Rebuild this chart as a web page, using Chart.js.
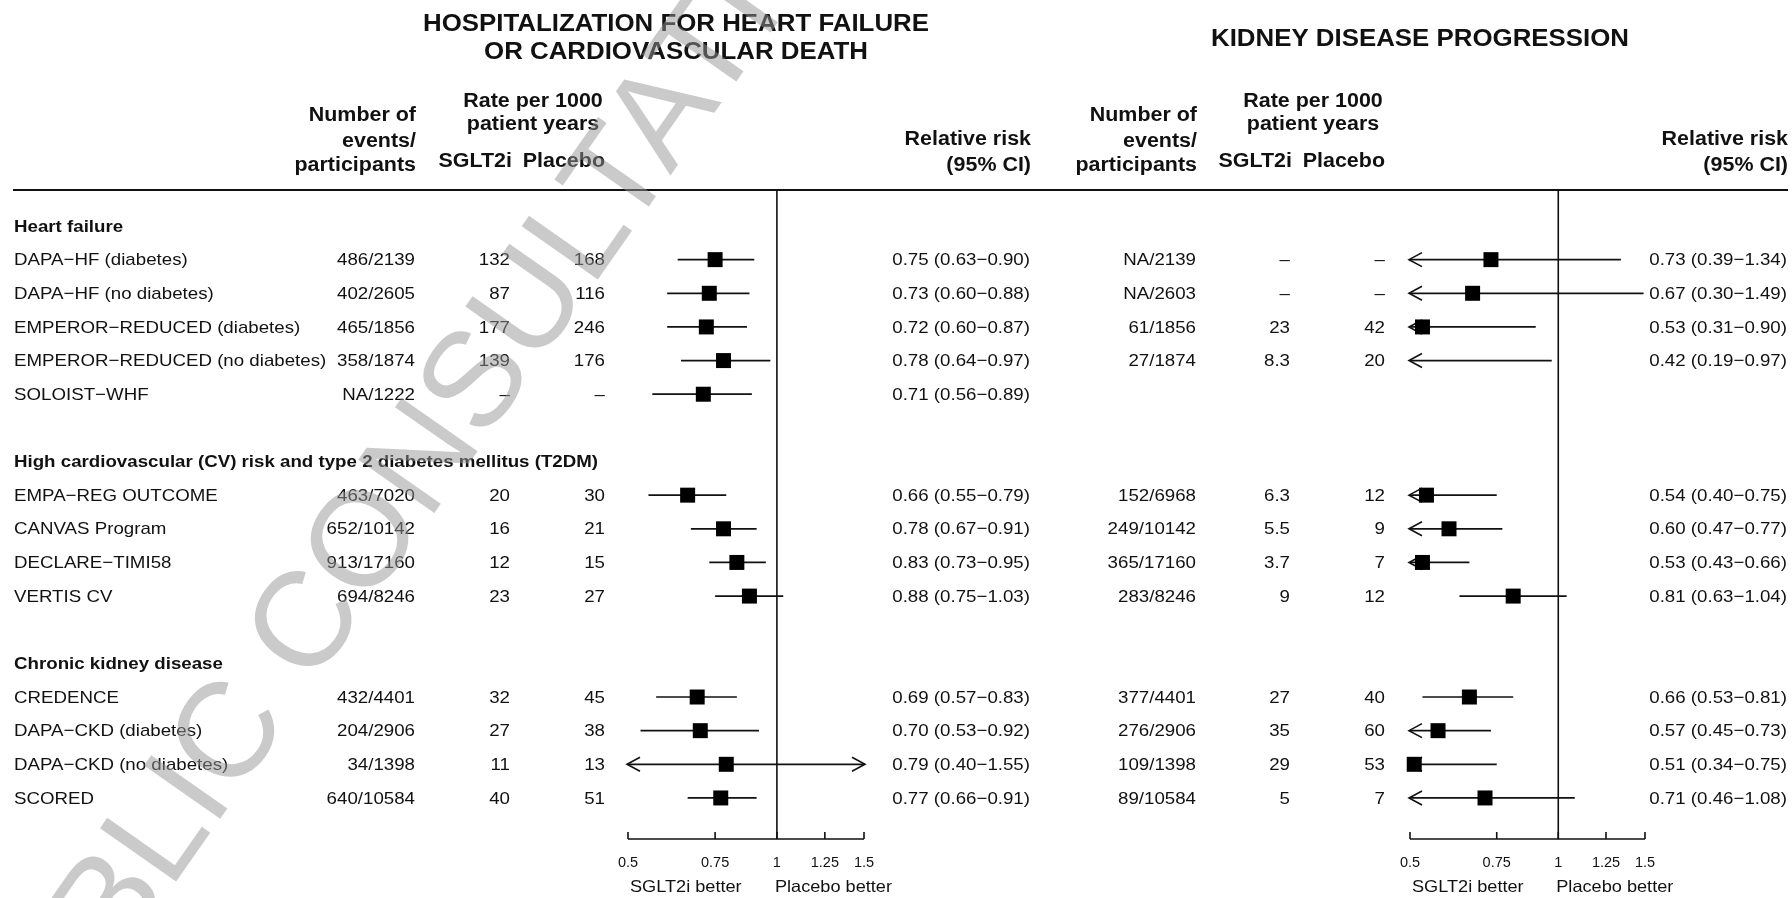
<!DOCTYPE html>
<html>
<head>
<meta charset="utf-8">
<title>SGLT2 inhibitors: heart failure and kidney outcomes</title>
<script src="https://cdn.jsdelivr.net/npm/chart.js@4.4.1/dist/chart.umd.min.js"></script>
<style>
  html, body { margin: 0; padding: 0; background: #ffffff; }
  #wrap { position: relative; width: 1792px; height: 898px; overflow: hidden; background: #ffffff; }
  #wrap canvas { position: absolute; left: 0; top: 0; }
</style>
</head>
<body>
<div id="wrap">
  <canvas id="hf" width="1792" height="898"></canvas>
  <canvas id="kd" width="1792" height="898"></canvas>
</div>
<script>
// ---- Study rows ----
const groups = [
  'Heart failure',
  'High cardiovascular (CV) risk and type 2 diabetes mellitus (T2DM)',
  'Chronic kidney disease'
];
const trials = [
  'DAPA−HF (diabetes)', 'DAPA−HF (no diabetes)', 'EMPEROR−REDUCED (diabetes)',
  'EMPEROR−REDUCED (no diabetes)', 'SOLOIST−WHF',
  'EMPA−REG OUTCOME', 'CANVAS Program', 'DECLARE−TIMI58', 'VERTIS CV',
  'CREDENCE', 'DAPA−CKD (diabetes)', 'DAPA−CKD (no diabetes)', 'SCORED'
];
const trialGroup = [0, 0, 0, 0, 0, 1, 1, 1, 1, 2, 2, 2, 2];

// ---- Hospitalization for heart failure or cardiovascular death ----
const hfEvents  = ['486/2139', '402/2605', '465/1856', '358/1874', 'NA/1222',
                   '463/7020', '652/10142', '913/17160', '694/8246',
                   '432/4401', '204/2906', '34/1398', '640/10584'];
const hfSglt    = ['132', '87', '177', '139', '–', '20', '16', '12', '23', '32', '27', '11', '40'];
const hfPlacebo = ['168', '116', '246', '176', '–', '30', '21', '15', '27', '45', '38', '13', '51'];
const hfRR      = [0.75, 0.73, 0.72, 0.78, 0.71, 0.66, 0.78, 0.83, 0.88, 0.69, 0.70, 0.79, 0.77];
const hfLo      = [0.63, 0.60, 0.60, 0.64, 0.56, 0.55, 0.67, 0.73, 0.75, 0.57, 0.53, 0.40, 0.66];
const hfHi      = [0.90, 0.88, 0.87, 0.97, 0.89, 0.79, 0.91, 0.95, 1.03, 0.83, 0.92, 1.55, 0.91];

// ---- Kidney disease progression (no kidney outcome for SOLOIST-WHF) ----
const kdEvents  = ['NA/2139', 'NA/2603', '61/1856', '27/1874', null,
                   '152/6968', '249/10142', '365/17160', '283/8246',
                   '377/4401', '276/2906', '109/1398', '89/10584'];
const kdSglt    = ['–', '–', '23', '8.3', null, '6.3', '5.5', '3.7', '9', '27', '35', '29', '5'];
const kdPlacebo = ['–', '–', '42', '20', null, '12', '9', '7', '12', '40', '60', '53', '7'];
const kdRR      = [0.73, 0.67, 0.53, 0.42, null, 0.54, 0.60, 0.53, 0.81, 0.66, 0.57, 0.51, 0.71];
const kdLo      = [0.39, 0.30, 0.31, 0.19, null, 0.40, 0.47, 0.43, 0.63, 0.53, 0.45, 0.34, 0.46];
const kdHi      = [1.34, 1.49, 0.90, 0.97, null, 0.75, 0.77, 0.66, 1.04, 0.81, 0.73, 0.75, 1.08];

// ---- Relative risk axis ----
const xTicks = [0.5, 0.75, 1, 1.25, 1.5];
const xTickLabels = ['0.5', '0.75', '1', '1.25', '1.5'];
const X_MIN = 0.5, X_MAX = 1.5;

// Row index of each group header and each trial (blank row between groups)
const groupRow = [];
const trialRow = [];
(function () {
  let r = 0;
  groups.forEach((g, gi) => {
    if (gi > 0) r++;
    groupRow[gi] = r++;
    trialGroup.forEach((tg, ti) => { if (tg === gi) trialRow[ti] = r++; });
  });
})();
const Y_MIN = -1.07, Y_MAX = 18.22;

const FONT = '"Liberation Sans", Arial, Helvetica, sans-serif';
const INK = '#111111';
const SX = 1.1; // slightly wide lettering used throughout the figure

function txt(ctx, s, x, y, align, font, color) {
  if (s == null) return;
  ctx.save();
  ctx.font = font;
  ctx.fillStyle = color || INK;
  ctx.textAlign = align;
  ctx.textBaseline = 'middle';
  ctx.translate(x, y);
  ctx.scale(SX, 1);
  ctx.fillText(s, 0, 0);
  ctx.restore();
}

const fmt = v => v.toFixed(2);

const panels = [
  {
    id: 'hf', left: 628, right: 864,
    title: ['HOSPITALIZATION FOR HEART FAILURE', 'OR CARDIOVASCULAR DEATH'],
    titleX: 676, titleY: [25, 53],
    col: { events: 415, sglt: 510, plac: 605, rr: 1030, rate: 533 },
    events: hfEvents, sglt: hfSglt, plac: hfPlacebo, rr: hfRR, lo: hfLo, hi: hfHi,
    rowLabels: true, watermark: true, rule: true
  },
  {
    id: 'kd', left: 1410, right: 1645,
    title: ['KIDNEY DISEASE PROGRESSION'],
    titleX: 1420, titleY: [40],
    col: { events: 1196, sglt: 1290, plac: 1385, rr: 1787, rate: 1313 },
    events: kdEvents, sglt: kdSglt, plac: kdPlacebo, rr: kdRR, lo: kdLo, hi: kdHi,
    rowLabels: false, watermark: false, rule: false
  }
];

function buildDatasets(P) {
  const ds = [];
  // line of no effect
  ds.push({
    type: 'line', data: [{ x: 1, y: Y_MIN }, { x: 1, y: Y_MAX }],
    borderColor: INK, borderWidth: 1.6, pointRadius: 0, clip: false, order: 3
  });
  // confidence intervals, cut at the axis limits
  P.rr.forEach((v, i) => {
    if (v == null) return;
    ds.push({
      type: 'line',
      data: [{ x: Math.max(P.lo[i], X_MIN), y: trialRow[i] }, { x: Math.min(P.hi[i], X_MAX), y: trialRow[i] }],
      borderColor: INK, borderWidth: 1.7, pointRadius: 0, clip: false, order: 2
    });
  });
  // point estimates
  ds.push({
    type: 'scatter',
    data: P.rr.map((v, i) => (v != null && v >= X_MIN && v <= X_MAX) ? { x: v, y: trialRow[i] } : null)
              .filter(p => p),
    pointStyle: 'rect', pointRadius: 10.6, pointHoverRadius: 10.6,
    backgroundColor: '#000000', borderWidth: 0, clip: false, order: 1
  });
  return ds;
}

function panelPlugin(P) {
  return {
    id: 'panel_' + P.id,
    beforeDatasetsDraw(chart) {
      const ctx = chart.ctx, xs = chart.scales.x, ys = chart.scales.y;
      ctx.save();
      ctx.strokeStyle = INK; ctx.lineWidth = 1.6; ctx.lineJoin = 'miter';
      P.rr.forEach((v, i) => {
        if (v == null) return;
        const y = ys.getPixelForValue(trialRow[i]);
        if (P.lo[i] < X_MIN) {
          const t = xs.getPixelForValue(X_MIN) - 1;
          ctx.beginPath(); ctx.moveTo(t + 13, y - 7); ctx.lineTo(t, y); ctx.lineTo(t + 13, y + 7); ctx.stroke();
        }
        if (P.hi[i] > X_MAX) {
          const t = xs.getPixelForValue(X_MAX) + 1;
          ctx.beginPath(); ctx.moveTo(t - 13, y - 7); ctx.lineTo(t, y); ctx.lineTo(t - 13, y + 7); ctx.stroke();
        }
      });
      ctx.restore();
    },
    afterDraw(chart) {
      const ctx = chart.ctx, xs = chart.scales.x, ys = chart.scales.y;
      const area = chart.chartArea;
      const body = '17px ' + FONT, bold = 'bold 17px ' + FONT, head = 'bold 19.5px ' + FONT;

      // titles
      P.title.forEach((t, k) => txt(ctx, t, P.titleX, P.titleY[k], 'center', 'bold 23.5px ' + FONT));

      // column headings
      const c = P.col;
      txt(ctx, 'Number of', c.events + 1, 116, 'right', head);
      txt(ctx, 'events/', c.events + 1, 142, 'right', head);
      txt(ctx, 'participants', c.events + 1, 166, 'right', head);
      txt(ctx, 'Rate per 1000', c.rate, 102, 'center', head);
      txt(ctx, 'patient years', c.rate, 125, 'center', head);
      txt(ctx, 'SGLT2i', c.sglt + 2, 162, 'right', head);
      txt(ctx, 'Placebo', c.plac, 162, 'right', head);
      txt(ctx, 'Relative risk', c.rr + 1, 140, 'right', head);
      txt(ctx, '(95% CI)', c.rr + 1, 166, 'right', head);

      // rule under the headings
      if (P.rule) {
        ctx.save(); ctx.strokeStyle = INK; ctx.lineWidth = 2;
        ctx.beginPath(); ctx.moveTo(13, area.top); ctx.lineTo(1788, area.top); ctx.stroke();
        ctx.restore();
      }

      // row labels
      if (P.rowLabels) {
        groups.forEach((g, gi) => txt(ctx, g, 14, ys.getPixelForValue(groupRow[gi]) + 1, 'left', bold));
        trials.forEach((t, i) => txt(ctx, t, 14, ys.getPixelForValue(trialRow[i]) + 1, 'left', body));
      }

      // numeric columns
      trials.forEach((t, i) => {
        const y = ys.getPixelForValue(trialRow[i]) + 1;
        txt(ctx, P.events[i], c.events, y, 'right', body);
        txt(ctx, P.sglt[i], c.sglt, y, 'right', body);
        txt(ctx, P.plac[i], c.plac, y, 'right', body);
        if (P.rr[i] != null) {
          txt(ctx, fmt(P.rr[i]) + ' (' + fmt(P.lo[i]) + '−' + fmt(P.hi[i]) + ')', c.rr, y, 'right', body);
        }
      });

      // relative-risk axis line with upward ticks
      ctx.save();
      ctx.strokeStyle = INK; ctx.lineWidth = 1.6;
      ctx.beginPath();
      ctx.moveTo(xs.getPixelForValue(X_MIN), area.bottom);
      ctx.lineTo(xs.getPixelForValue(X_MAX), area.bottom);
      xTicks.forEach(v => {
        const px = xs.getPixelForValue(v);
        ctx.moveTo(px, area.bottom); ctx.lineTo(px, area.bottom - 7);
      });
      ctx.stroke();
      ctx.restore();

      // direction labels
      txt(ctx, 'SGLT2i better', xs.getPixelForValue(X_MIN) + 2, 887, 'left', '16.5px ' + FONT);
      txt(ctx, 'Placebo better', xs.getPixelForValue(1) - 2, 887, 'left', '16.5px ' + FONT);

      // watermark
      if (P.watermark) {
        ctx.save();
        const fs = 135;
        ctx.font = fs + 'px ' + FONT;
        ctx.fillStyle = 'rgba(150,150,150,0.5)';
        ctx.textBaseline = 'alphabetic';
        const w0 = ctx.measureText('PUBLIC ').width;
        const wc = ctx.measureText('C').width;
        ctx.translate(300, 620);
        ctx.rotate(-55 * Math.PI / 180);
        ctx.fillText('PUBLIC CONSULTATION', -(w0 + wc / 2), 0.36 * fs);
        ctx.restore();
      }
    }
  };
}

panels.forEach(P => {
  new Chart(document.getElementById(P.id), {
    type: 'scatter',
    data: { datasets: buildDatasets(P) },
    options: {
      responsive: false,
      devicePixelRatio: 1,
      animation: false,
      events: [],
      layout: { padding: { left: P.left, right: 1792 - P.right, top: 190, bottom: 11 } },
      plugins: { legend: { display: false }, tooltip: { enabled: false } },
      scales: {
        x: {
          type: 'logarithmic', min: X_MIN, max: X_MAX,
          afterBuildTicks: ax => { ax.ticks = xTicks.map(v => ({ value: v })); },
          grid: { display: false, drawTicks: false },
          border: { display: false },
          ticks: {
            autoSkip: false, maxRotation: 0, padding: 15.3,
            color: INK, font: { family: FONT, size: 14.5 },
            callback: (v, i) => xTickLabels[i]
          }
        },
        y: { type: 'linear', min: Y_MIN, max: Y_MAX, reverse: true, display: false }
      }
    },
    plugins: [panelPlugin(P)]
  });
});
</script>
</body>
</html>
